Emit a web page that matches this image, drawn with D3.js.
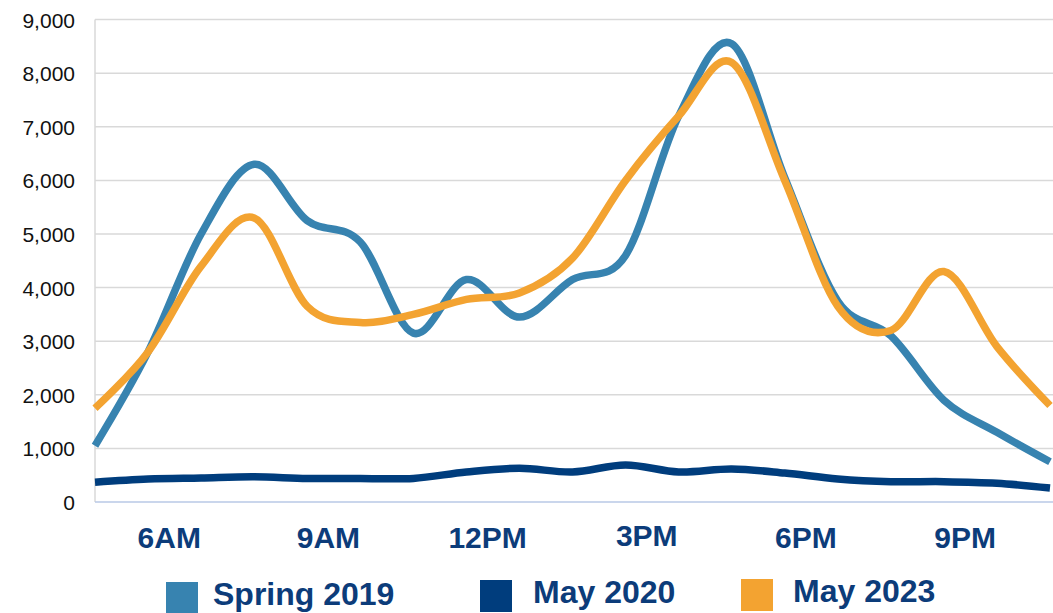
<!DOCTYPE html>
<html>
<head>
<meta charset="utf-8">
<script src="https://cdn.jsdelivr.net/npm/d3@7"></script>
<style>
  html, body { margin: 0; padding: 0; background: #ffffff; }
  svg { display: block; }
</style>
</head>
<body>
<svg id="chart" width="1053" height="613"></svg>
<script>
// ---- data ----
const hours = ["5AM","6AM","7AM","8AM","9AM","10AM","11AM","12PM","1PM","2PM","3PM","4PM","5PM","6PM","7PM","8PM","9PM","10PM","11PM"];
const spring2019 = [1050, 2800, 5000, 6300, 5250, 4850, 3150, 4150, 3450, 4150, 4600, 7200, 8550, 6050, 3750, 3100, 1900, 1300, 750];
const may2020    = [370, 430, 450, 470, 440, 440, 440, 560, 630, 560, 690, 560, 615, 540, 430, 380, 380, 350, 260];
const may2023    = [1750, 2800, 4400, 5300, 3650, 3350, 3500, 3780, 3900, 4550, 6000, 7200, 8200, 6000, 3650, 3200, 4300, 2900, 1800];
const xTickLabels = ["6AM","9AM","12PM","3PM","6PM","9PM"];
const yTicks = [0, 1000, 2000, 3000, 4000, 5000, 6000, 7000, 8000, 9000];
const seriesNames = ["Spring 2019", "May 2020", "May 2023"];

// ---- styles ----
const colors = {"Spring 2019": "#3783b0", "May 2020": "#003d7d", "May 2023": "#f3a331"};
const labelColor = "#0c3c7a";

const svg = d3.select("#chart");
const plotLeft = 95, plotRight = 1050, plotTop = 19.6, plotBottom = 502;

const x = d3.scaleLinear().domain([0, hours.length - 1]).range([plotLeft, plotRight]);
const y = d3.scaleLinear().domain([0, 9000]).range([plotBottom, plotTop]);

// gridlines
svg.append("g")
  .selectAll("line")
  .data(yTicks.filter(d => d > 0))
  .join("line")
  .attr("x1", plotLeft).attr("x2", 1053)
  .attr("y1", d => y(d)).attr("y2", d => y(d))
  .attr("stroke", "#d9d9d9").attr("stroke-width", 1.5);

// vertical axis line
svg.append("line")
  .attr("x1", plotLeft).attr("x2", plotLeft)
  .attr("y1", plotTop).attr("y2", plotBottom)
  .attr("stroke", "#d9d9d9").attr("stroke-width", 1.5);

// bottom axis line
svg.append("line")
  .attr("x1", plotLeft).attr("x2", 1053)
  .attr("y1", plotBottom).attr("y2", plotBottom)
  .attr("stroke", "#b9c9e6").attr("stroke-width", 1.5);

// y axis labels
const yAxis = d3.axisLeft(y).tickValues(yTicks).tickFormat(d3.format(",")).tickSize(0).tickPadding(0);
const yg = svg.append("g").attr("transform", `translate(${plotLeft - 20},0)`).call(yAxis);
yg.select(".domain").remove();
yg.selectAll("text")
  .attr("font-family", "'Liberation Sans', Arial, sans-serif")
  .attr("font-size", 21)
  .attr("fill", "#111111")
  .attr("dy", "0.36em");

// x axis labels
const step = x(1) - x(0);
const xLabelIdx = xTickLabels.map(l => hours.indexOf(l));
const labelDy = [0, 0, 0, -2, 0, 0];
svg.append("g")
  .selectAll("text")
  .data(xTickLabels)
  .join("text")
  .attr("x", (d, i) => x(xLabelIdx[i]) + step * 0.4)
  .attr("y", (d, i) => 548 + labelDy[i])
  .attr("text-anchor", "middle")
  .attr("font-family", "'Liberation Sans', Arial, sans-serif")
  .attr("font-weight", "bold")
  .attr("font-size", 30)
  .attr("fill", labelColor)
  .text(d => d);

// lines
const line = d3.line()
  .x((d, i) => x(i))
  .y(d => y(d))
  .curve(d3.curveCardinal.tension(0));

const seriesData = [spring2019, may2020, may2023];
svg.append("g")
  .selectAll("path")
  .data(seriesData)
  .join("path")
  .attr("d", d => line(d))
  .attr("fill", "none")
  .attr("stroke", (d, i) => colors[seriesNames[i]])
  .attr("stroke-width", 7.5)
  .attr("stroke-linejoin", "round")
  .attr("stroke-linecap", "butt");

// legend
const legendX = [166, 480, 741];
const legendTextX = [213, 533, 793];
const legendBase = [605, 603, 602];
const lg = svg.append("g");
seriesNames.forEach((name, i) => {
  lg.append("rect")
    .attr("x", legendX[i]).attr("y", legendBase[i] - 23)
    .attr("width", 32).attr("height", 32)
    .attr("fill", colors[name]);
  lg.append("text")
    .attr("x", legendTextX[i]).attr("y", legendBase[i])
    .attr("font-family", "'Liberation Sans', Arial, sans-serif")
    .attr("font-weight", "bold")
    .attr("font-size", 32)
    .attr("fill", labelColor)
    .text(name);
});
</script>
</body>
</html>
